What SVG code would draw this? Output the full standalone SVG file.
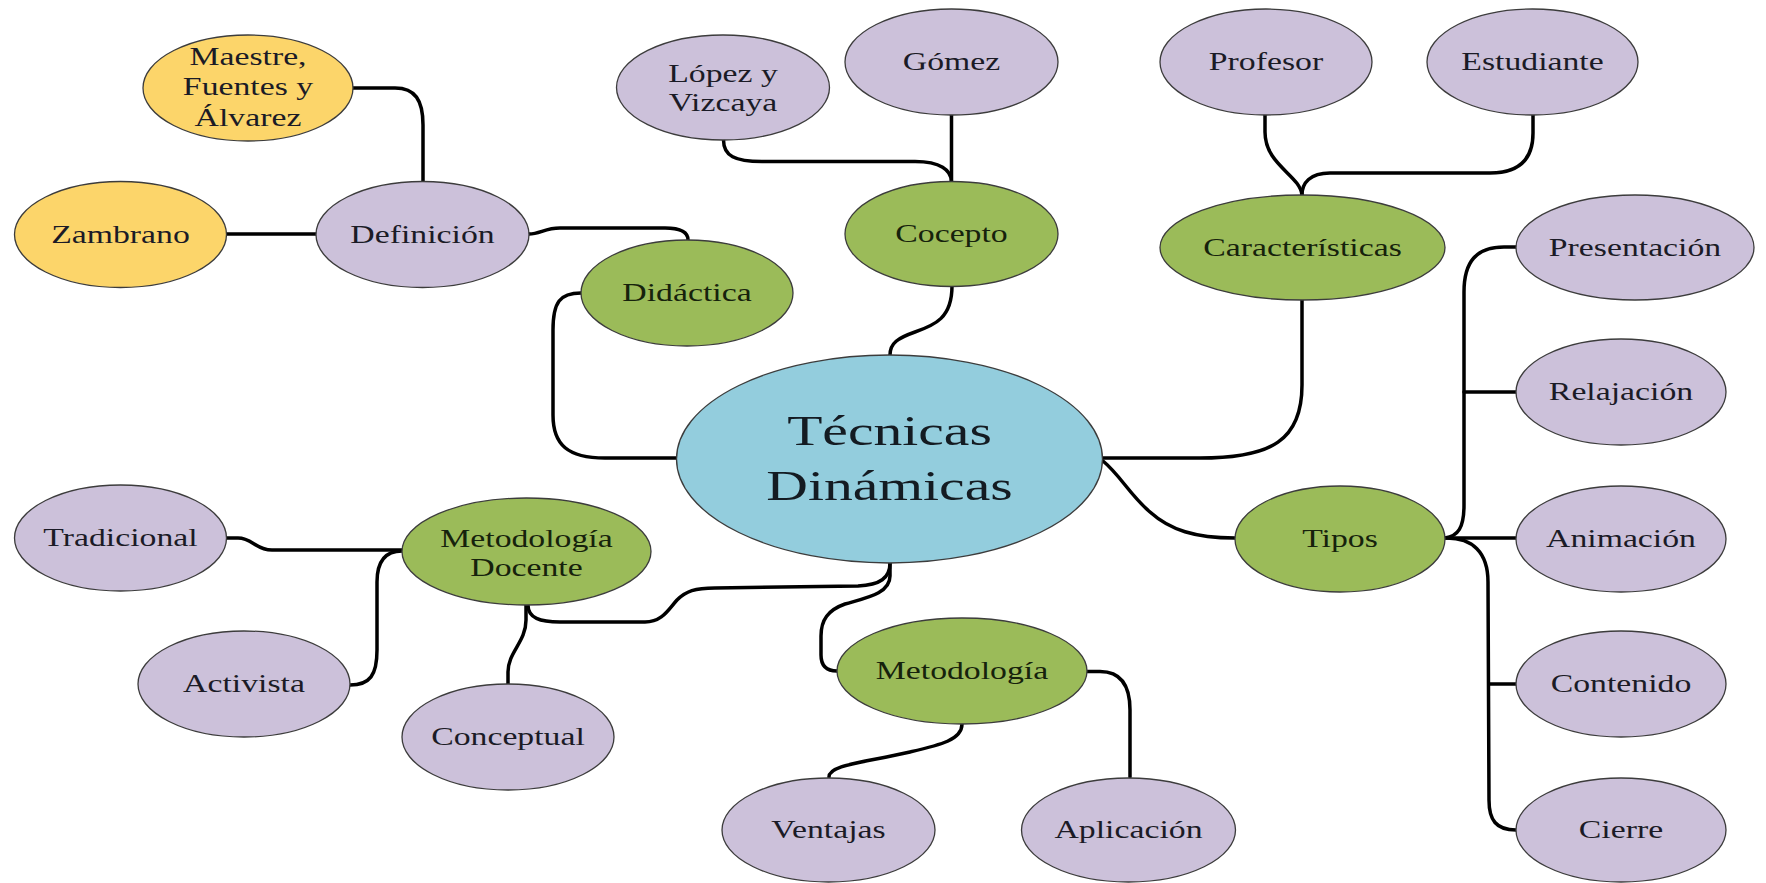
<svg xmlns="http://www.w3.org/2000/svg" width="1766" height="883" viewBox="0 0 1766 883">
<style>
  ellipse { stroke: #3c3c3c; stroke-width: 1.3; }
  .lav ellipse { fill: #CCC1DA; }
  .grn ellipse { fill: #9BBB59; }
  .yel ellipse { fill: #FCD56A; }
  .blu ellipse { fill: #93CDDD; }
  text { font-family: "Liberation Serif", "Times New Roman", serif; font-size: 25px; text-anchor: middle; fill: #1b1b26; }
  .grn text { fill: #16220c; }
  .blu text { font-size: 43px; fill: #141b22; }
  #connectors path { fill: none; stroke: #000; stroke-width: 3.5; stroke-linecap: round; stroke-linejoin: round; }
</style>
<rect width="1766" height="883" fill="#ffffff"/>
<g id="connectors">
  <path d="M353,88 L395,88 C415,88 423,100 423,125 L423,182"/>
  <path d="M226,234 L316,234"/>
  <path d="M529,234 C540,234 545,228 560,228 L665,228 C680,228 688,232 688,240"/>
  <path d="M581,293 C560,293 553,302 553,330 L553,415 C553,445 568,458 605,458 L677,458"/>
  <path d="M723.5,140 C723.5,156 735,161.5 762,161.5 L915,161.5 C940,161.5 951.5,170 951.5,182"/>
  <path d="M951.5,115 L951.5,182"/>
  <path d="M952,286 C952,318 935,325 915,332 C898,338 890,343 890,355"/>
  <path d="M1265,115 L1265,132 C1265,165 1300,175 1302,195"/>
  <path d="M1533,115 L1533,133 C1533,163 1515,173 1490,173 L1330,173 C1310,173 1302,183 1302,195"/>
  <path d="M1302,300 L1302,385 C1302,440 1272,458 1200,458 L1102,458"/>
  <path d="M1103,461 C1120,475 1130,495 1150,512 C1170,530 1195,538 1235,538"/>
  <path d="M1516,247 L1504,247 C1476,247 1464,262 1464,292 L1464,505 C1464,528 1458,536 1445,538"/>
  <path d="M1464,392 L1516,392"/>
  <path d="M1445,538 L1516,538"/>
  <path d="M1447,538 C1472,538 1488,552 1488,582 L1489,800 C1489,820 1496,830 1516,830"/>
  <path d="M1489,684 L1516,684"/>
  <path d="M226,538 L238,538 C252,538 256,550 272,550 L402,550"/>
  <path d="M350,685 C370,685 377,675 377,650 L377,582 C377,560 386,551 402,551"/>
  <path d="M526,605 L526,620 C526,642 508,652 508,672 L508,684"/>
  <path d="M528,605 C528,618 540,622 560,622 L645,622 C662,622 668,610 677,600 C686,591 695,588 715,588 L858,586 C880,585 890,578 890,563"/>
  <path d="M890,563 L890,576 C890,594 865,598 845,604 C828,610 821,620 821,636 L821,655 C821,667 828,671 837,671"/>
  <path d="M962,724 C962,740 940,745 910,752 C862,763 829,765 829,777"/>
  <path d="M1087,671.5 L1100,671.5 C1120,671.5 1130,685 1130,710 L1130,777"/>
</g>
<g id="n-maestre" class="yel"><ellipse cx="248" cy="88" rx="105" ry="53"/>
  <text transform="translate(248,88) scale(1.35,1)"><tspan x="0" y="-23">Maestre,</tspan><tspan x="0" y="7">Fuentes y</tspan><tspan x="0" y="38">Álvarez</tspan></text></g>
<g id="n-zambrano" class="yel"><ellipse cx="120.5" cy="234.5" rx="106" ry="53"/>
  <text transform="translate(120.5,234.5) scale(1.35,1)" y="8">Zambrano</text></g>
<g id="n-definicion" class="lav"><ellipse cx="422.5" cy="234.5" rx="106.5" ry="53"/>
  <text transform="translate(422.5,234.5) scale(1.35,1)" y="8">Definición</text></g>
<g id="n-lopez" class="lav"><ellipse cx="723" cy="87.5" rx="106.5" ry="52.5"/>
  <text transform="translate(723,87.5) scale(1.35,1)"><tspan x="0" y="-6">López y</tspan><tspan x="0" y="24">Vizcaya</tspan></text></g>
<g id="n-gomez" class="lav"><ellipse cx="951.5" cy="62" rx="106.5" ry="53"/>
  <text transform="translate(951.5,62) scale(1.35,1)" y="8">Gómez</text></g>
<g id="n-cocepto" class="grn"><ellipse cx="951.5" cy="234" rx="106.5" ry="52.5"/>
  <text transform="translate(951.5,234) scale(1.35,1)" y="8">Cocepto</text></g>
<g id="n-didactica" class="grn"><ellipse cx="687" cy="293" rx="106" ry="53"/>
  <text transform="translate(687,293) scale(1.35,1)" y="8">Didáctica</text></g>
<g id="n-profesor" class="lav"><ellipse cx="1266" cy="62" rx="106" ry="53"/>
  <text transform="translate(1266,62) scale(1.35,1)" y="8">Profesor</text></g>
<g id="n-estudiante" class="lav"><ellipse cx="1532.5" cy="62" rx="105.5" ry="53"/>
  <text transform="translate(1532.5,62) scale(1.35,1)" y="8">Estudiante</text></g>
<g id="n-caracteristicas" class="grn"><ellipse cx="1302.5" cy="247.5" rx="142.5" ry="52.5"/>
  <text transform="translate(1302.5,247.5) scale(1.35,1)" y="8">Características</text></g>
<g id="n-presentacion" class="lav"><ellipse cx="1635" cy="247.5" rx="119" ry="52.5"/>
  <text transform="translate(1635,247.5) scale(1.35,1)" y="8">Presentación</text></g>
<g id="n-center" class="blu"><ellipse cx="889.5" cy="459" rx="213" ry="104"/>
  <text transform="translate(889.5,459) scale(1.34,1)"><tspan x="0" y="-14">Técnicas</tspan><tspan x="0" y="41">Dinámicas</tspan></text></g>
<g id="n-tradicional" class="lav"><ellipse cx="120.5" cy="538" rx="106" ry="53"/>
  <text transform="translate(120.5,538) scale(1.35,1)" y="8">Tradicional</text></g>
<g id="n-metdocente" class="grn"><ellipse cx="526.5" cy="551.5" rx="124.5" ry="53.5"/>
  <text transform="translate(526.5,551.5) scale(1.35,1)"><tspan x="0" y="-5">Metodología</tspan><tspan x="0" y="25">Docente</tspan></text></g>
<g id="n-activista" class="lav"><ellipse cx="244" cy="684" rx="106" ry="53"/>
  <text transform="translate(244,684) scale(1.35,1)" y="8">Activista</text></g>
<g id="n-conceptual" class="lav"><ellipse cx="508" cy="737" rx="106" ry="53"/>
  <text transform="translate(508,737) scale(1.35,1)" y="8">Conceptual</text></g>
<g id="n-metodologia" class="grn"><ellipse cx="962" cy="671" rx="125" ry="53"/>
  <text transform="translate(962,671) scale(1.35,1)" y="8">Metodología</text></g>
<g id="n-ventajas" class="lav"><ellipse cx="828.5" cy="830" rx="106.5" ry="52"/>
  <text transform="translate(828.5,830) scale(1.35,1)" y="8">Ventajas</text></g>
<g id="n-aplicacion" class="lav"><ellipse cx="1128.5" cy="830" rx="107" ry="52"/>
  <text transform="translate(1128.5,830) scale(1.35,1)" y="8">Aplicación</text></g>
<g id="n-tipos" class="grn"><ellipse cx="1340" cy="539" rx="105" ry="53"/>
  <text transform="translate(1340,539) scale(1.35,1)" y="8">Tipos</text></g>
<g id="n-relajacion" class="lav"><ellipse cx="1621" cy="392" rx="105" ry="53"/>
  <text transform="translate(1621,392) scale(1.35,1)" y="8">Relajación</text></g>
<g id="n-animacion" class="lav"><ellipse cx="1621" cy="539" rx="105" ry="53"/>
  <text transform="translate(1621,539) scale(1.35,1)" y="8">Animación</text></g>
<g id="n-contenido" class="lav"><ellipse cx="1621" cy="684" rx="105" ry="53"/>
  <text transform="translate(1621,684) scale(1.35,1)" y="8">Contenido</text></g>
<g id="n-cierre" class="lav"><ellipse cx="1621" cy="830" rx="105" ry="52"/>
  <text transform="translate(1621,830) scale(1.35,1)" y="8">Cierre</text></g>
</svg>
